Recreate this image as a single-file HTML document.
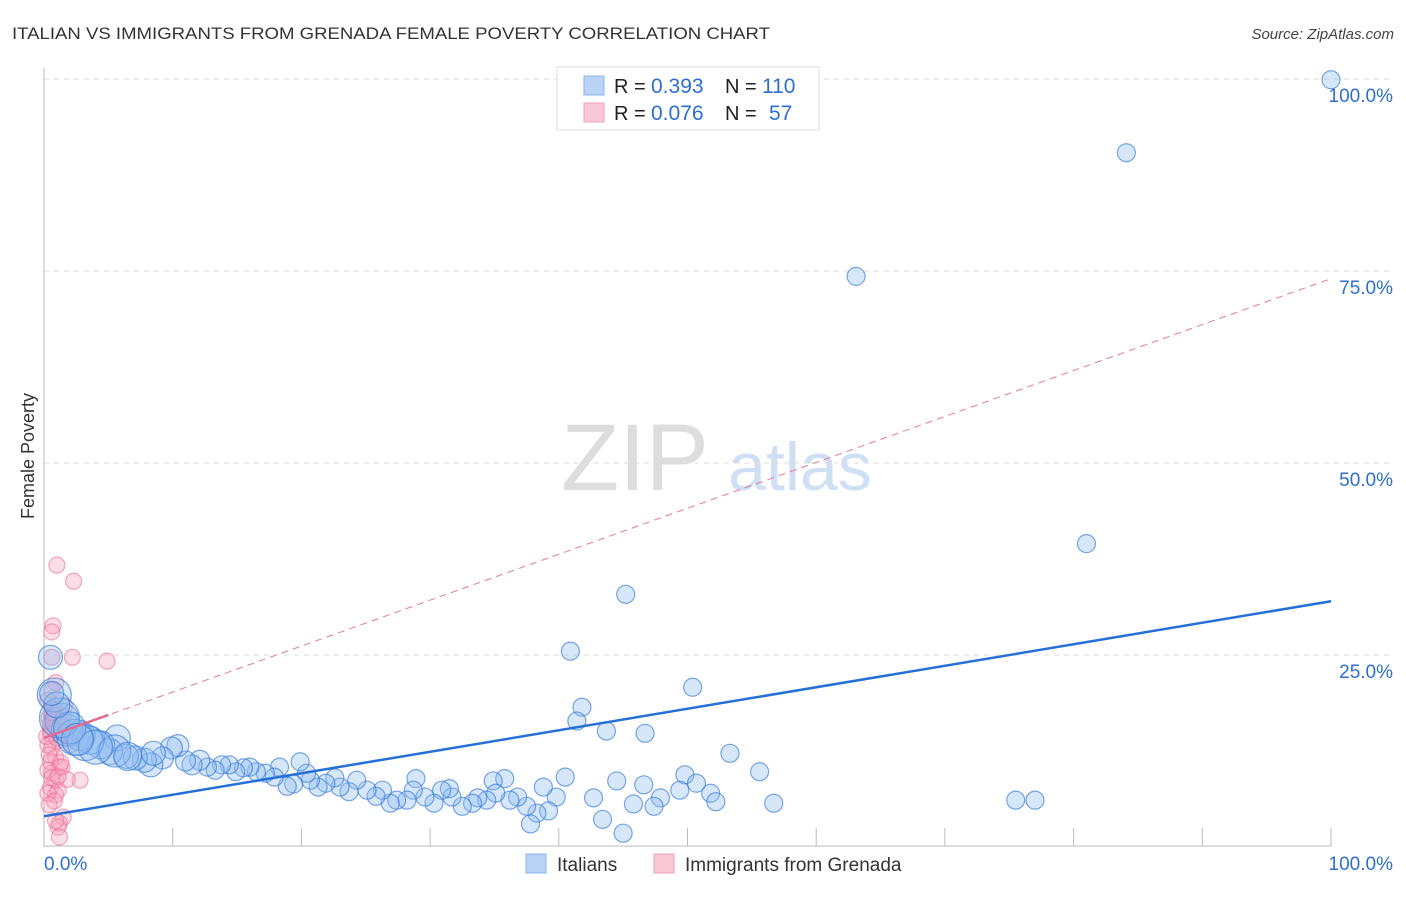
<!DOCTYPE html>
<html><head><meta charset="utf-8"><style>
body{margin:0;background:#fff;font-family:"Liberation Sans",sans-serif}
svg text{font-family:"Liberation Sans",sans-serif}
</style></head><body>
<svg id="c" width="1406" height="892">
<text x="12" y="39" font-size="17" fill="#333" textLength="758" lengthAdjust="spacingAndGlyphs">ITALIAN VS IMMIGRANTS FROM GRENADA FEMALE POVERTY CORRELATION CHART</text>
<text x="1394" y="39" font-size="15" fill="#444" font-style="italic" text-anchor="end">Source: ZipAtlas.com</text>
<text x="34" y="456" font-size="18" fill="#333" text-anchor="middle" transform="rotate(-90 34 456)">Female Poverty</text>
<g><text x="635" y="490" font-size="95" fill="#ddd" font-family="Liberation Serif" text-anchor="middle">ZIP</text><text x="800" y="490" font-size="68" fill="#cfe0f5" text-anchor="middle">atlas</text></g>
<g id="grid"></g><g id="pink"></g><g id="blue"></g><g id="lines"></g>
<g>
<rect x="557" y="67" width="262" height="63" fill="#fff" stroke="#ddd"/>
<rect x="584" y="76" width="20" height="19" fill="#b8d3f5" stroke="#8ab4ea"/>
<rect x="584" y="103" width="20" height="19" fill="#f9c8d6" stroke="#f0a0b8"/>
<text x="614" y="93" font-size="20" fill="#222">R =</text><text x="651" y="93" font-size="21" fill="#2c6fd1">0.393</text>
<text x="725" y="93" font-size="20" fill="#222">N =</text><text x="762" y="93" font-size="21" fill="#2c6fd1">110</text>
<text x="614" y="120" font-size="20" fill="#222">R =</text><text x="651" y="120" font-size="21" fill="#2c6fd1">0.076</text>
<text x="725" y="120" font-size="20" fill="#222">N =</text><text x="769" y="120" font-size="21" fill="#2c6fd1">57</text>
</g>
<g>
<rect x="526" y="854" width="20" height="19" fill="#b8d3f5" stroke="#8ab4ea"/>
<text x="557" y="871" font-size="19" fill="#333">Italians</text>
<rect x="654" y="854" width="20" height="19" fill="#f9c8d6" stroke="#f0a0b8"/>
<text x="685" y="871" font-size="19" fill="#333">Immigrants from Grenada</text>
</g>
</svg>
<script>
const blueX=[100,84.1,63.1,81,45.2,40.9,41.8,41.4,50.4,43.7,46.7,53.3,55.6,75.5,77,56.7,49.8,50.7,51.8,52.2,49.4,47.9,47.4,46.6,45.8,44.5,45,43.4,42.7,40.5,39.8,39.2,38.8,38.3,37.8,37.5,36.8,36.2,35.8,34.9,35.1,34.4,33.7,33.3,32.5,31.7,31.5,30.9,30.3,29.6,28.9,28.7,28.2,27.4,26.9,26.3,25.8,25.1,24.3,23.7,23,22.6,21.9,21.3,20.7,20.4,19.9,19.4,18.9,18.3,17.9,17.2,16.5,16,15.5,14.9,14.4,13.8,13.3,12.7,12.1,11.5,11,10.4,9.9,9.2,8.3,7.8,7.1,6.4,5.7,5.1,4.4,3.6,2.8,1.8,1.4,0.8,0.5,2.4,1.2,3.2,5.5,6.5,4,2,8.5,1,0.6,2.6];
const blueY=[99.9,90.4,74.3,39.5,32.9,25.5,18.2,16.4,20.8,15.1,14.8,12.2,9.8,6.1,6.1,5.7,9.4,8.3,7,5.9,7.4,6.4,5.3,8.1,5.6,8.6,1.8,3.6,6.4,9.1,6.5,4.7,7.8,4.4,3,5.3,6.5,6.1,8.9,8.6,7,6.1,6.4,5.7,5.3,6.5,7.6,7.4,5.7,6.5,8.9,7.4,6.1,6.1,5.7,7.4,6.6,7.4,8.7,7.2,7.8,9,8.3,7.8,8.7,9.6,11.1,8.2,7.9,10.4,9.1,9.6,9.8,10.4,10.3,9.8,10.7,10.7,10,10.4,11.3,10.7,11.2,13.2,12.9,11.6,10.7,11.3,11.6,11.8,14.2,12.4,13.3,13.9,14.5,15.2,16.5,19.8,24.7,14.3,16.8,13.6,12.5,11.8,13,15.5,12.2,18.5,20,14];
const blueR=[9,9,9,9,9,9,9,9,9,9,9,9,9,9,9,9,9,9,9,9,9,9,9,9,9,9,9,9,9,9,9,9,9,9,9,9,9,9,9,9,9,9,9,9,9,9,9,9,9,9,9,9,9,9,9,9,9,9,9,9,9,9,9,9,9,9,9,9,9,9,9,9,9,9,9,9,9,9,9,9,10,10,10,11,11,11,12,12,12,12,13,13,14,14,15,16,17,17,12,18,20,18,16,14,17,16,12,13,12,16];
const pinkX=[1,2.3,0.7,0.6,0.6,2.2,4.9,0.9,0.6,0.9,0.6,0.9,1.4,0.5,1.1,0.6,0.9,0.5,1.2,0.6,0.9,0.5,1.1,2.8,1.4,0.9,1.5,1.2,1.1,1.2,1.7,2.1,0.3,0.3,0.3,1.6,0.4,0.8,1.3,0.5,0.7,1.0,2.5,0.4,0.6,1.8,0.3,0.8,1.1,0.5,0.7,1.3,0.4,0.9,0.6,1.5,0.2];
const pinkY=[36.7,34.6,28.8,28,24.7,24.7,24.2,21.4,20.4,17.8,17.2,16.5,15.9,15.2,13.9,12.9,11.7,11.1,10.4,9.6,8.7,7.7,7.4,8.7,10.4,6.8,3.9,3.1,2.6,1.3,14.6,13.3,19.1,13.3,10,18.4,16.8,17,16.2,14.7,15.5,14.2,15,12,9,8.8,7,6,9.2,16,18,11,5.5,3.4,17.5,16.9,14.4];
const blueTrend=[4.0,32.0], pinkTrend=[14.2,74.0];
const yTicks=[25,50,75,100], yTickLabels=["25.0%","50.0%","75.0%","100.0%"];
const X=v=>44+v*12.87, Y=v=>847-v*7.68;
const NS="http://www.w3.org/2000/svg";
function mk(p,t,a){const e=document.createElementNS(NS,t);for(const k in a)e.setAttribute(k,a[k]);p.appendChild(e);return e;}
const grid=document.getElementById('grid');
yTicks.forEach((t,i)=>{
 const l=mk(grid,'line',{x1:44,x2:1394,y1:Y(t),y2:Y(t),stroke:'#ddd','stroke-dasharray':'5,5'});
 
 
 const tx=mk(grid,'text',{x:1393,y:Y(t)+23,'font-size':19,fill:'#2c6fd1','text-anchor':'end'});tx.textContent=yTickLabels[i];
 
 
});
mk(grid,'line',{x1:44,x2:44,y1:68,y2:847,stroke:'#bbb'});
mk(grid,'line',{x1:44,x2:1331,y1:846,y2:846,stroke:'#bbb'});
for(let i=1;i<=10;i++){const t=mk(grid,'line',{x1:X(i*10),x2:X(i*10),y1:828,y2:846,stroke:'#bbb'});
 
 }
let a=mk(grid,'text',{x:44,y:870,'font-size':19,fill:'#2c6fd1'});a.textContent='0.0%';


a=mk(grid,'text',{x:1393,y:870,'font-size':19,fill:'#2c6fd1','text-anchor':'end'});a.textContent='100.0%';


const pg=document.getElementById('pink');
pinkX.forEach((v,i)=>{const c=mk(pg,'circle',{cx:X(v),cy:Y(pinkY[i]),r:8,fill:'rgba(245,160,185,0.35)',stroke:'rgba(235,110,150,0.6)','stroke-width':1.2});
 
 });
const bg=document.getElementById('blue');
blueX.forEach((v,i)=>{const c=mk(bg,'circle',{cx:X(v),cy:Y(blueY[i]),r:blueR[i],fill:'rgba(140,185,240,0.35)',stroke:'rgba(50,120,215,0.65)','stroke-width':1.2});
 
 });
const lg=document.getElementById('lines');
let l=mk(lg,'line',{x1:X(0),y1:Y(pinkTrend[0]),x2:X(100),y2:Y(pinkTrend[1]),stroke:'#e77a9c','stroke-width':1,'stroke-dasharray':'7,5'});


const ps=(pinkTrend[1]-pinkTrend[0])/100;
l=mk(lg,'line',{x1:X(0),y1:Y(pinkTrend[0]),x2:X(5),y2:Y(pinkTrend[0]+5*ps),stroke:'#e56b92','stroke-width':2.5});


l=mk(lg,'line',{x1:X(0),y1:Y(blueTrend[0]),x2:X(100),y2:Y(blueTrend[1]),stroke:'#2470d6','stroke-width':2.5});


</script>
</body></html>
